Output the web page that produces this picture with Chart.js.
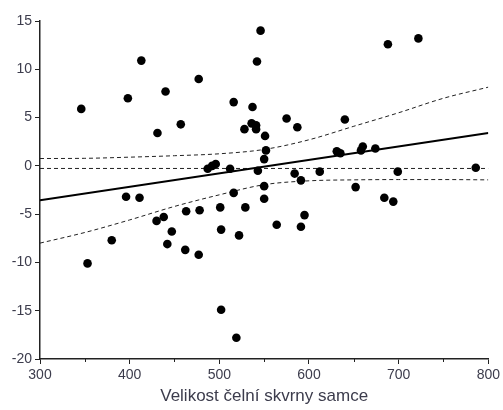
<!DOCTYPE html>
<html>
<head>
<meta charset="utf-8">
<script src="https://cdn.jsdelivr.net/npm/chart.js@4.4.1/dist/chart.umd.min.js"></script>
<style>
  html, body { margin: 0; padding: 0; background: #fff; }
  canvas { display: block; }
</style>
</head>
<body>
<canvas id="chart" width="503" height="410"></canvas>
<script>
// velikost skvrny (x) a hodnota (y) pro každého samce
const spotSize = [346, 353, 380, 396, 398, 411, 413, 430, 431, 438, 440, 442, 447, 457, 462, 463,
                  477, 477, 478, 487, 492, 496, 501, 502, 502, 512, 516, 516, 519, 522, 528, 529,
                  536, 537, 541, 541, 542, 543, 546, 550, 550, 550, 551, 552, 564, 575, 584, 587,
                  591, 591, 595, 612, 631, 635, 640, 652, 658, 660, 674, 684, 688, 694, 699, 722, 786];
const residual = [5.9, -10.1, -7.7, -3.2, 7.0, -3.3, 10.9, -5.7, 3.4, -5.3, 7.7, -8.1, -6.8, 4.3, -8.7, -4.7,
                  9.0, -9.2, -4.6, -0.3, 0.0, 0.2, -4.3, -6.6, -14.9, -0.3, 6.6, -2.8, -17.8, -7.2, 3.8, -4.3,
                  4.4, 6.1, 4.2, 3.8, 10.8, -0.5, 14.0, 0.7, -2.1, -3.4, 3.1, 1.6, -6.1, 4.9, -0.8, 4.0,
                  -1.5, -6.3, -5.1, -0.6, 1.5, 1.3, 4.8, -2.2, 1.6, 2.0, 1.8, -3.3, 12.6, -3.7, -0.6, 13.2, -0.2];

// regresní přímka a pás spolehlivosti
const fitX = [300, 800];
const fitY = [-3.55, 3.41];
const bandX = [300, 350, 400, 450, 500, 550, 600, 650, 700, 750, 800];
const bandUpper = [0.76, 0.78, 0.9, 1.05, 1.25, 1.7, 2.7, 4.1, 5.5, 7.0, 8.15];
const bandLower = [-8.0, -6.9, -5.6, -4.2, -3.0, -1.95, -1.55, -1.45, -1.42, -1.42, -1.45];
const meanY = [-0.27, -0.27];

const minorTicks = [350, 450, 550, 650, 750];

const axisColor = '#222';
const textColor = '#3c3c4c';

const toPoints = (xs, ys) => xs.map((x, i) => ({ x, y: ys[i] }));

// kratší vedlejší značky na ose x
const minorTickPlugin = {
  id: 'minorTicks',
  afterDraw(chart) {
    const { ctx, chartArea } = chart;
    const x = chart.scales.x;
    ctx.save();
    ctx.strokeStyle = axisColor;
    ctx.lineWidth = 1;
    minorTicks.forEach(v => {
      const px = Math.round(x.getPixelForValue(v)) + 0.5;
      ctx.beginPath();
      ctx.moveTo(px, chartArea.bottom);
      ctx.lineTo(px, chartArea.bottom + 3);
      ctx.stroke();
    });
    ctx.restore();
  }
};

const dashed = {
  showLine: true,
  borderColor: '#222',
  borderWidth: 1,
  borderDash: [4, 3],
  pointRadius: 0,
  fill: false
};

new Chart(document.getElementById('chart').getContext('2d'), {
  type: 'scatter',
  data: {
    datasets: [
      {
        data: toPoints(spotSize, residual),
        backgroundColor: '#000',
        borderWidth: 0,
        pointRadius: 4.3,
        pointStyle: 'circle'
      },
      {
        data: toPoints(fitX, fitY),
        showLine: true,
        borderColor: '#000',
        borderWidth: 2,
        pointRadius: 0,
        fill: false
      },
      { ...dashed, data: toPoints(bandX, bandUpper), cubicInterpolationMode: 'monotone' },
      { ...dashed, data: toPoints(bandX, bandLower), cubicInterpolationMode: 'monotone' },
      { ...dashed, data: toPoints(fitX, meanY) }
    ]
  },
  options: {
    responsive: false,
    devicePixelRatio: 1,
    animation: false,
    layout: { padding: { top: 21, right: 14, left: 0, bottom: 0 } },
    plugins: {
      legend: { display: false },
      tooltip: { enabled: false }
    },
    scales: {
      x: {
        type: 'linear',
        min: 300,
        max: 800,
        afterFit: s => { s.height = 51; },
        ticks: {
          stepSize: 100,
          padding: 3,
          color: textColor,
          font: { family: 'Liberation Sans', size: 14 }
        },
        grid: { drawOnChartArea: false, tickLength: 5, tickColor: axisColor },
        border: { color: axisColor, width: 1.5 },
        title: {
          display: true,
          text: 'Velikost čelní skvrny samce',
          color: textColor,
          font: { family: 'Liberation Sans', size: 17 },
          padding: { top: 0, bottom: 3 }
        }
      },
      y: {
        type: 'linear',
        min: -20,
        max: 15,
        afterFit: s => { s.width = 40; },
        ticks: {
          stepSize: 5,
          padding: 3,
          color: textColor,
          font: { family: 'Liberation Sans', size: 14 }
        },
        grid: { drawOnChartArea: false, tickLength: 5, tickColor: axisColor },
        border: { color: axisColor, width: 1.5 }
      }
    }
  },
  plugins: [minorTickPlugin]
});
</script>
</body>
</html>
